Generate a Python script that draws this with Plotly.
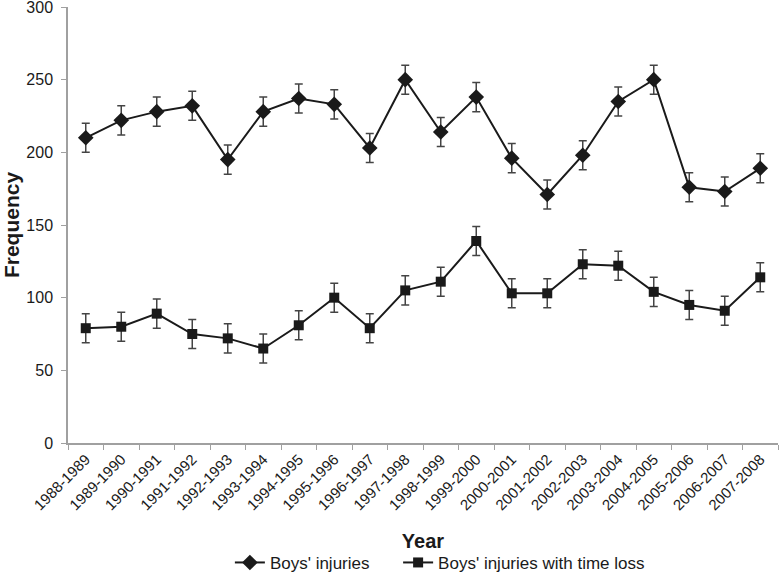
import plotly.graph_objects as go

years = ["1988-1989", "1989-1990", "1990-1991", "1991-1992", "1992-1993", "1993-1994",
         "1994-1995", "1995-1996", "1996-1997", "1997-1998", "1998-1999", "1999-2000",
         "2000-2001", "2001-2002", "2002-2003", "2003-2004", "2004-2005", "2005-2006",
         "2006-2007", "2007-2008"]
boys_injuries = [210, 222, 228, 232, 195, 228, 237, 233, 203, 250, 214, 238,
                 196, 171, 198, 235, 250, 176, 173, 189]
boys_time_loss = [79, 80, 89, 75, 72, 65, 81, 100, 79, 105, 111, 139,
                  103, 103, 123, 122, 104, 95, 91, 114]
error_injuries = [10] * len(years)
error_time_loss = [10] * len(years)
y_ticks = [0, 50, 100, 150, 200, 250, 300]
series_names = ["Boys' injuries", "Boys' injuries with time loss"]

font_family = "Liberation Sans, Arial, sans-serif"
line_col = "#1a1a1a"
err_col = "#444444"
axis_col = "#a0a0a0"
text_col = "#1a1a1a"
legend_pad = "\u00a0" * 5  # extra spacing between legend entries

fig = go.Figure()
fig.add_trace(go.Scatter(
    x=years, y=boys_injuries, name=series_names[0] + legend_pad, mode="lines+markers",
    line=dict(color=line_col, width=2),
    marker=dict(symbol="diamond", size=12, color=line_col),
    error_y=dict(type="data", array=error_injuries, visible=True,
                 color=err_col, thickness=1.5, width=4),
))
fig.add_trace(go.Scatter(
    x=years, y=boys_time_loss, name=series_names[1], mode="lines+markers",
    line=dict(color=line_col, width=2),
    marker=dict(symbol="square", size=10, color=line_col),
    error_y=dict(type="data", array=error_time_loss, visible=True,
                 color=err_col, thickness=1.5, width=4),
))

fig.update_layout(
    width=779, height=573,
    margin=dict(l=68, r=1, t=7, b=130, autoexpand=False),
    paper_bgcolor="white", plot_bgcolor="white",
    font=dict(family=font_family, color=text_col),
    showlegend=True,
    legend=dict(orientation="h", x=0.228, xanchor="left", y=-0.275, yanchor="middle",
                font=dict(size=17, color=text_col), bgcolor="rgba(0,0,0,0)",
                itemwidth=30, tracegroupgap=0),
    xaxis=dict(
        type="category", range=[-0.5, len(years) - 0.5],
        showline=True, linecolor=axis_col, linewidth=1.5,
        ticks="outside", tickcolor=axis_col, ticklen=5, tickson="boundaries",
        tickangle=-45, tickfont=dict(size=15, color=text_col),
        showgrid=False, zeroline=False,
        title=dict(text="<b>Year</b>", font=dict(size=20, color=text_col), standoff=22),
        automargin=False,
    ),
    yaxis=dict(
        range=[0, 300], tickvals=y_ticks,
        showline=True, linecolor=axis_col, linewidth=1.5,
        ticks="outside", tickcolor=axis_col, ticklen=5, ticklabelstandoff=5,
        ticklabeloverflow="allow",
        tickfont=dict(size=16, color=text_col),
        showgrid=False, zeroline=False,
        title=dict(text="<b>Frequency</b>", font=dict(size=21, color=text_col), standoff=5),
        automargin=False,
    ),
)

fig.write_html("out.html", config={"displayModeBar": False},
               post_script="document.body.style.margin='0';")
